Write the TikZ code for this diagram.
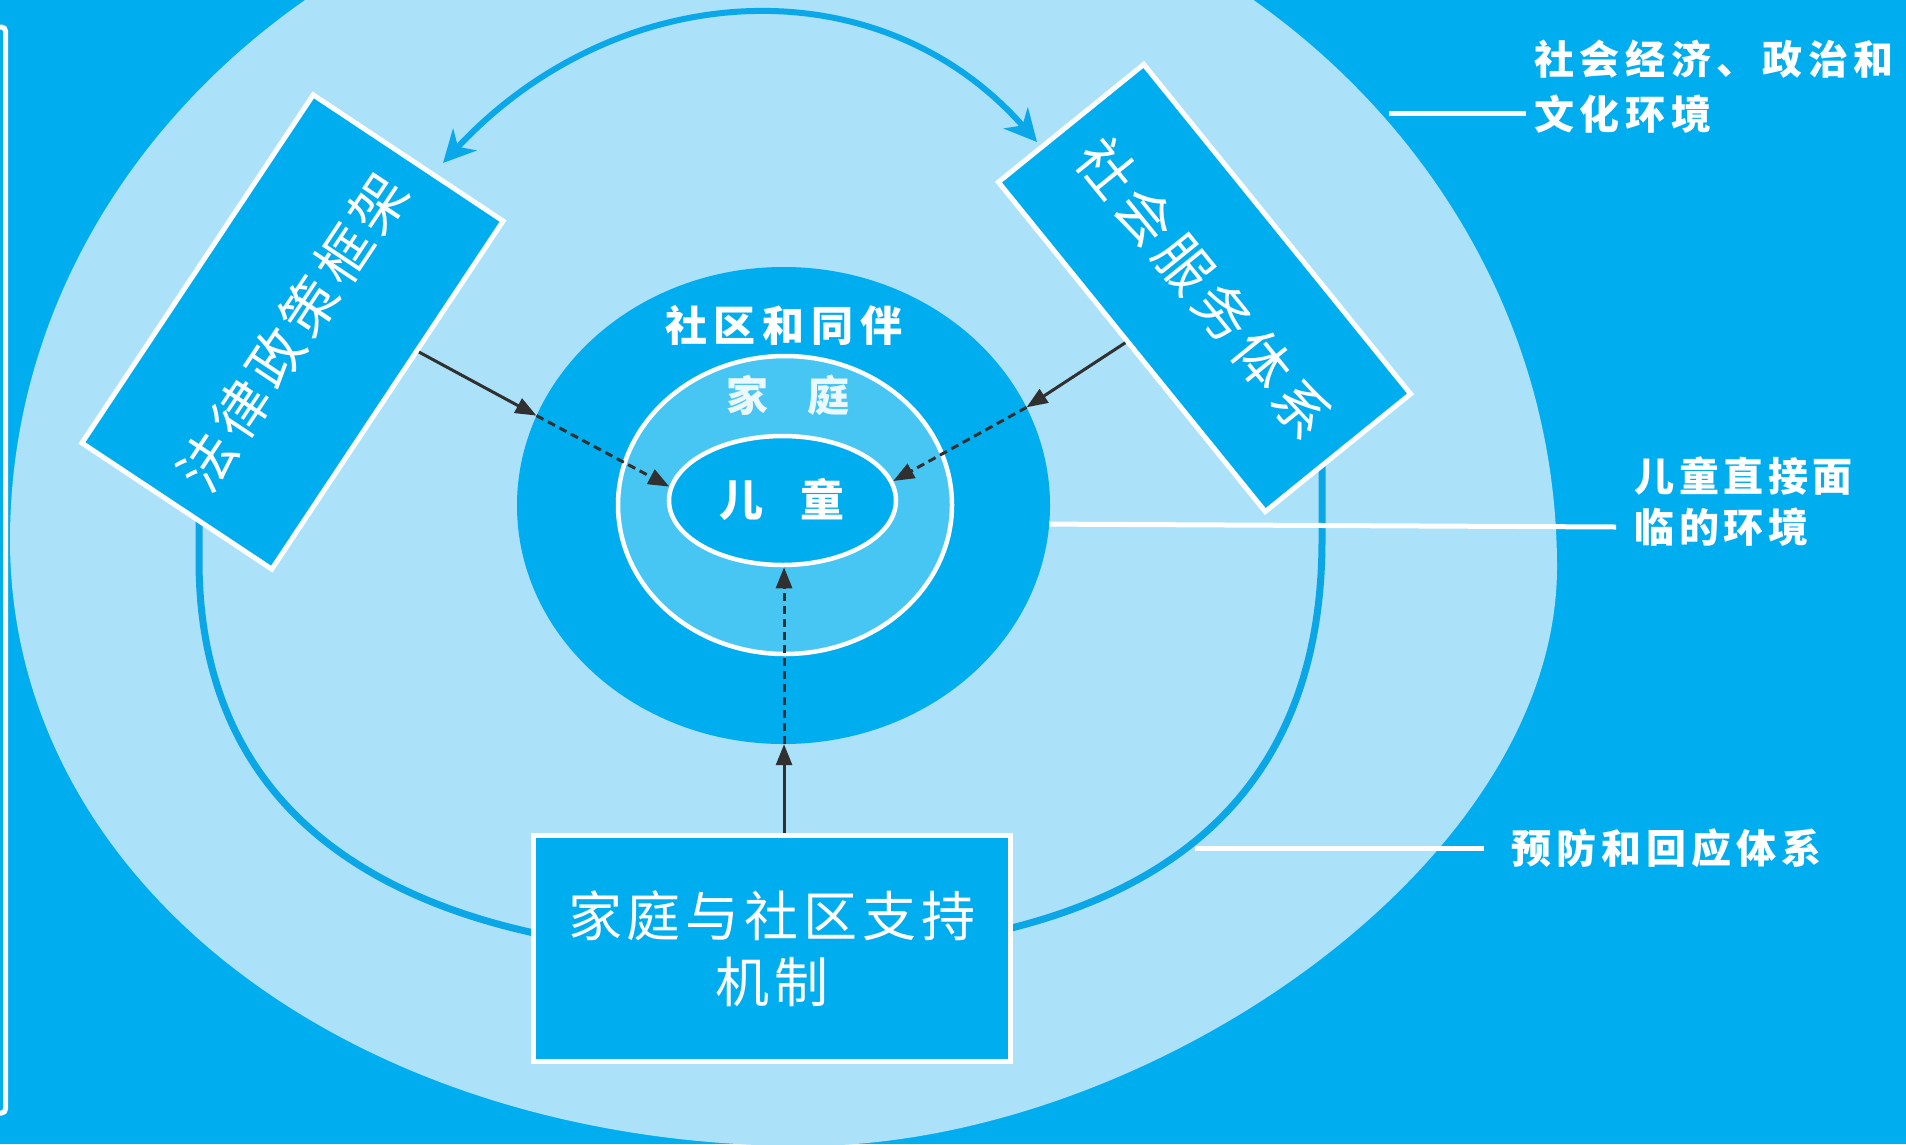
\documentclass[tikz,border=0pt]{standalone}
\usepackage{fontspec}
\newfontfamily\cjk{Noto Sans CJK SC}
\usetikzlibrary{shapes.geometric,arrows.meta,calc}
\definecolor{bgblue}{HTML}{00AEEF}
\definecolor{lightband}{HTML}{ABE1F9}
\definecolor{famblue}{HTML}{48C6F3}
\definecolor{ringblue}{HTML}{0AA6E6}
\definecolor{arcblue}{HTML}{0AA8E8}
\definecolor{darkline}{HTML}{303030}
\makeatletter
\newcommand\pitched[2]{\@tfor\pch:=#2\do{\makebox[#1]{\pch}}}
\makeatother
\begin{document}
\begin{tikzpicture}[x=1pt,y=-1pt,
  boxstyle/.style={draw=white,line width=5pt,fill=bgblue,text=white,inner sep=0pt,shape=rectangle},
  darkarrow/.style={draw=darkline,line width=3pt,-{Triangle[length=21pt,width=16pt]}},
  dasharrow/.style={darkarrow,dash pattern=on 8pt off 5pt},
  leader/.style={draw=white,line width=5pt},
  ringline/.style={draw=ringblue,line width=7pt},
  lbl/.style={text=white,inner sep=0pt,anchor=west,font=\cjk\bfseries\fontsize{40pt}{48pt}\selectfont},
  arcarrow/.style={draw=arcblue,line width=6pt,{Stealth[length=32pt,width=32pt,inset=10pt]}-{Stealth[length=32pt,width=32pt,inset=10pt]}}
]
\useasboundingbox (0,0) rectangle (1906,1144);
\clip (0,0) rectangle (1906,1144);
\fill[bgblue] (0,0) rectangle (1906,1144);
% outer light band (socio-economic, political and cultural environment)
\fill[lightband] (783,-147)
  .. controls (1210.5,-147) and (1557,172.7) .. (1557,567)
  .. controls (1557,867) and (1143,1146) .. (805,1146)
  .. controls (356,1146) and (10,885) .. (10,540)
  .. controls (10,160.6) and (356,-147) .. (783,-147) -- cycle;
% prevention and response ring
\draw[ringline] (199,470) -- (199,560)
  .. controls (199,860) and (460,955) .. (760,955)
  .. controls (1040,955) and (1322,880) .. (1322,540) -- (1322,430);
% left white border
\draw[white,line width=5pt,rounded corners=4pt] (-10,27) -- (5.5,27) -- (5.5,1113) -- (-10,1113);
% central circles
\node[ellipse,fill=bgblue,inner sep=0pt,minimum width=533pt,minimum height=477pt] (disc) at (783.5,505.5) {};
\node[ellipse,fill=famblue,draw=white,line width=4.5pt,inner sep=0pt,minimum width=334pt,minimum height=298pt] (fam) at (785,505) {};
\node[ellipse,fill=bgblue,draw=white,line width=4.5pt,inner sep=0pt,minimum width=227pt,minimum height=129pt] (child) at (782.5,500.5) {};
\node[text=white,inner sep=0pt,font=\cjk\bfseries\fontsize{42pt}{50pt}\selectfont] (tcomm) at (784,325) {\pitched{49pt}{社区和同伴}};
\node[text=white!92!bgblue,inner sep=0pt,font=\cjk\bfseries\fontsize{42pt}{50pt}\selectfont] (tfam) at (788,395) {\pitched{82pt}{家庭}};
\node[text=white,inner sep=0pt,font=\cjk\bfseries\fontsize{44pt}{50pt}\selectfont] (tchild) at (782,499) {\pitched{82pt}{儿童}};
% boxes
\node[boxstyle,minimum width=418pt,minimum height=228pt,rotate=56.4,font=\cjk\fontsize{56pt}{60pt}\selectfont] (lbox) at (292.5,332) {\pitched{62pt}{法律政策框架}};
\node[boxstyle,minimum width=424pt,minimum height=187pt,rotate=-51,font=\cjk\fontsize{56pt}{60pt}\selectfont] (rbox) at (1204.5,288) {\pitched{62pt}{社会服务体系}};
\node[boxstyle,minimum width=477pt,minimum height=226pt,align=center,font=\cjk\fontsize{54pt}{66pt}\selectfont] (bbox) at (772,948.5) {\pitched{59pt}{家庭与社区支持}\\\pitched{59pt}{机制}};
% top double arrow between the two boxes
\coordinate (arcL) at (443,163);
\coordinate (arcR) at (1037,142);
\draw[arcarrow] (arcL) .. controls (615.5,-22.5) and (877.5,-39.1) .. (arcR);
% arrows toward the child
\draw[darkarrow] ($(lbox.south west)!0.626!(lbox.south east)$) -- (disc.160.5);
\draw[dasharrow] (disc.160.5) -- (child.173.8);
\draw[darkarrow] ($(rbox.south west)!0.483!(rbox.south east)$) -- (disc.22.7);
\draw[dasharrow] (disc.22.7) -- (child.10.2);
\path ($(bbox.north west)!0.525!(bbox.north east)$) coordinate (bstart);
\draw[darkarrow] (bstart) -- (bstart |- disc.south);
\draw[dasharrow] (bstart |- disc.south) -- (bstart |- child.south);
% right labels
\node[lbl] (t1a) at (1531,59) {\pitched{45.7pt}{社会经济、政治和}};
\node[lbl] (t1b) at (1531,114) {\pitched{45.7pt}{文化环境}};
\node[lbl] (t2a) at (1632,476) {\pitched{44.6pt}{儿童直接面}};
\node[lbl] (t2b) at (1632,527) {\pitched{44.6pt}{临的环境}};
\node[lbl] (t3) at (1509,848) {\pitched{45pt}{预防和回应体系}};
\coordinate (l1s) at (1389,113);
\coordinate (l3s) at (1195,848);
\draw[leader] (l1s) -- ([xshift=-5pt]t1b.west |- l1s);
\draw[leader] (disc.-4.6) -- ([xshift=-16pt]t2b.west);
\draw[leader] (l3s) -- ([xshift=-25pt]t3.west);
\end{tikzpicture}
\end{document}
